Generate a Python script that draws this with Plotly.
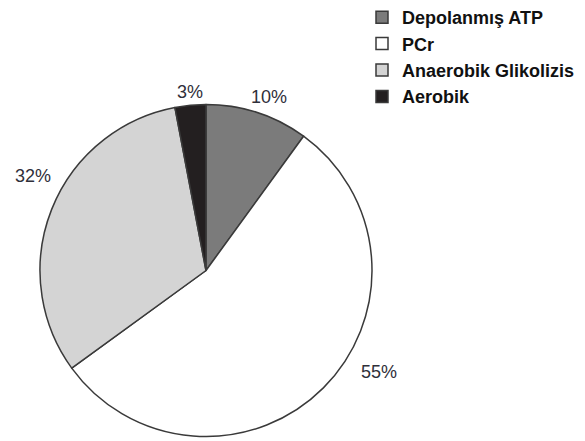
import plotly.graph_objects as go

W, H = 585, 441
OFF = 8  # page body margin in the screenshot

labels = ["Depolanmış ATP", "PCr", "Anaerobik Glikolizis", "Aerobik"]
values = [10, 55, 32, 3]
colors = ["#7b7b7b", "#ffffff", "#d4d4d4", "#231f20"]
pct_text = ["10%", "55%", "32%", "3%"]
# label centres in pixels
label_px = [(269, 97), (379, 372), (33, 176), (190, 92)]

# pie box in pixels
pie_left, pie_right, pie_top, pie_bottom = 40, 372, 104, 437


def px_x(v):
    return (v - OFF) / W


def px_y(v):
    return 1 - (v - OFF) / H


fig = go.Figure()

fig.add_trace(go.Pie(
    labels=labels,
    values=values,
    sort=False,
    direction="clockwise",
    rotation=0,
    textinfo="none",
    hoverinfo="label+percent",
    marker=dict(colors=colors, line=dict(color="#3a3a3a", width=1.5)),
    domain=dict(x=[px_x(pie_left), px_x(pie_right)],
                y=[px_y(pie_bottom), px_y(pie_top)]),
))

for txt, (px, py) in zip(pct_text, label_px):
    fig.add_annotation(x=px_x(px), y=px_y(py), xref="paper", yref="paper",
                       text=txt, showarrow=False, xanchor="center", yanchor="middle",
                       font=dict(family="Liberation Sans, Arial", size=18, color="#2f2f3a"))

fig.update_layout(
    width=W, height=H,
    margin=dict(t=0, l=0, r=0, b=0, autoexpand=False),
    paper_bgcolor="white",
    plot_bgcolor="white",
    showlegend=True,
    legend=dict(x=px_x(362), y=px_y(-1), xanchor="left", yanchor="top",
                font=dict(family="Liberation Sans, Arial", size=18, color="#111111",
                          weight="bold"),
                bgcolor="rgba(0,0,0,0)"),
)

fig.write_html("out.html")
